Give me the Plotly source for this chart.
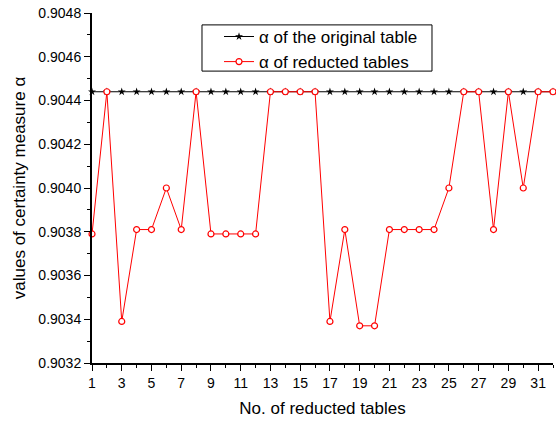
import plotly.graph_objects as go

x_vals = list(range(1, 33))
original = [0.90444] * 32
reducted = [0.90379, 0.90444, 0.90339, 0.90381, 0.90381, 0.90400, 0.90381, 0.90444,
            0.90379, 0.90379, 0.90379, 0.90379, 0.90444, 0.90444, 0.90444, 0.90444,
            0.90339, 0.90381, 0.90337, 0.90337, 0.90381, 0.90381, 0.90381, 0.90381,
            0.90400, 0.90444, 0.90444, 0.90381, 0.90444, 0.90400, 0.90444, 0.90444]
y_ticks = [0.9032, 0.9034, 0.9036, 0.9038, 0.9040, 0.9042, 0.9044, 0.9046, 0.9048]
y_labels = ["0.9032", "0.9034", "0.9036", "0.9038", "0.9040", "0.9042", "0.9044", "0.9046", "0.9048"]

font = "Arial, Liberation Sans, sans-serif"

fig = go.Figure()
fig.add_trace(go.Scatter(
    x=x_vals, y=original, mode="lines+markers", name="α of the original table",
    line=dict(color="black", width=1),
    marker=dict(symbol="star", size=6, color="black"),
    cliponaxis=False,
))
fig.add_trace(go.Scatter(
    x=x_vals, y=reducted, mode="lines+markers", name="α of reducted tables",
    line=dict(color="red", width=1),
    marker=dict(symbol="circle", size=6, color="white", line=dict(width=1.2, color="red")),
    cliponaxis=False,
))

# legend frame
fig.add_shape(type="rect", xref="paper", yref="paper",
              x0=0.2386, x1=0.7375, y0=0.834, y1=0.966,
              line=dict(color="black", width=1), fillcolor="white", layer="above")

fig.update_layout(
    width=556, height=423,
    margin=dict(l=92, r=3, t=13, b=60),
    paper_bgcolor="white", plot_bgcolor="white",
    font=dict(family=font, size=14, color="black"),
    showlegend=True,
    legend=dict(
        x=0.2755, y=0.983, xanchor="left", yanchor="top",
        borderwidth=0, bgcolor="rgba(0,0,0,0)",
        font=dict(size=17, family=font),
        tracegroupgap=0, itemwidth=30,
    ),
    xaxis=dict(
        range=[1, 32], tickmode="linear", tick0=1, dtick=2,
        ticks="outside", ticklen=6, tickwidth=1, tickcolor="black",
        showline=True, linecolor="black", linewidth=2,
        showgrid=False, zeroline=False, automargin=False,
        minor=dict(dtick=1, tick0=1, ticks="outside", ticklen=3, tickcolor="black", showgrid=False),
        title=dict(text="No. of reducted tables", font=dict(size=17, family=font), standoff=12),
        tickfont=dict(size=14),
    ),
    yaxis=dict(
        range=[0.9032, 0.9048], tickmode="array", tickvals=y_ticks, ticktext=y_labels,
        ticks="outside", ticklen=6, tickwidth=1, tickcolor="black",
        showline=True, linecolor="black", linewidth=2,
        showgrid=False, zeroline=False, automargin=False,
        minor=dict(dtick=0.0001, tick0=0.9032, ticks="outside", ticklen=3, tickcolor="black", showgrid=False),
        title=dict(text="values of certainty measure α", font=dict(size=17, family=font), standoff=8),
        tickfont=dict(size=14),
    ),
)

fig.write_html(
    "out.html",
    config={"displayModeBar": False},
    post_script="document.body.style.margin='0';document.body.style.overflow='hidden';",
)
